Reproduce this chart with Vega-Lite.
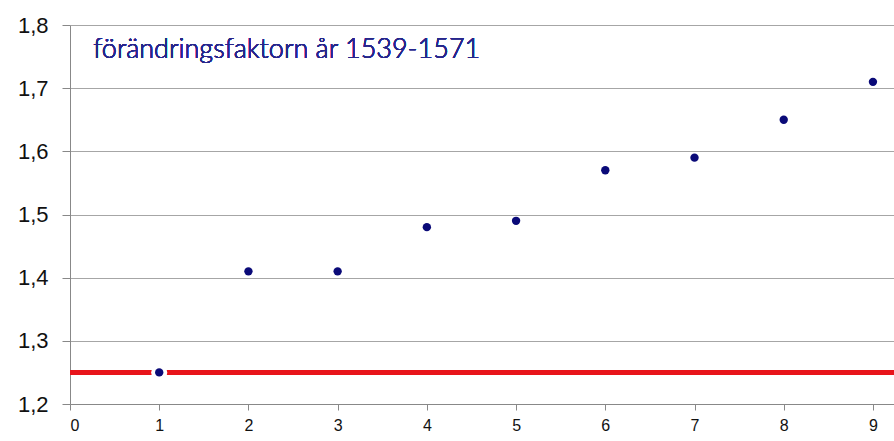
{
  "$schema": "https://vega.github.io/schema/vega-lite/v6.json",
  "width": 824,
  "height": 379,
  "autosize": {"type": "none"},
  "padding": {"left": 70, "top": 25, "right": 0, "bottom": 37},
  "background": "white",
  "config": {
    "view": {"stroke": null},
    "axis": {"labelFont": "Liberation Sans", "labelColor": "#111", "domainColor": "#888", "tickColor": "#888", "gridColor": "#a6a6a6", "title": null}
  },
  "data": {"values": [
    {"n": 1, "faktor": 1.25},
    {"n": 2, "faktor": 1.41},
    {"n": 3, "faktor": 1.41},
    {"n": 4, "faktor": 1.48},
    {"n": 5, "faktor": 1.49},
    {"n": 6, "faktor": 1.57},
    {"n": 7, "faktor": 1.59},
    {"n": 8, "faktor": 1.65},
    {"n": 9, "faktor": 1.71}
  ]},
  "encoding": {
    "x": {"field": "n", "type": "quantitative", "scale": {"domain": [0, 9.236], "nice": false, "zero": false},
      "axis": {"values": [0,1,2,3,4,5,6,7,8,9], "grid": false, "tickSize": 6, "labelFontSize": 16, "labelPadding": 7, "format": "d"}},
    "y": {"field": "faktor", "type": "quantitative", "scale": {"domain": [1.2, 1.8], "nice": false, "zero": false},
      "axis": {"values": [1.2,1.3,1.4,1.5,1.6,1.7,1.8], "grid": true, "tickSize": 8, "labelFontSize": 22, "labelPadding": 14, "labelExpr": "replace(format(datum.value, '.1f'), '.', ',')"}}
  },
  "layer": [
    {
      "mark": {"type": "rule", "color": "#e8141b", "strokeWidth": 4},
      "encoding": {"x": null, "y": {"datum": 1.25, "type": "quantitative"}}
    },
    {
      "transform": [{"filter": "datum.n == 1"}],
      "mark": {"type": "circle", "color": "white", "opacity": 1, "size": 260}
    },
    {
      "mark": {"type": "circle", "color": "#0a0a78", "opacity": 1, "size": 70}
    },
    {
      "mark": {"type": "text", "text": "förändringsfaktorn år 1539-1571", "font": "Lato", "fontWeight": 300, "fontSize": 27, "color": "#26268c", "align": "left", "baseline": "middle"},
      "encoding": {
        "x": {"datum": 0.26, "type": "quantitative"},
        "y": {"datum": 1.76, "type": "quantitative"}
      }
    }
  ]
}
